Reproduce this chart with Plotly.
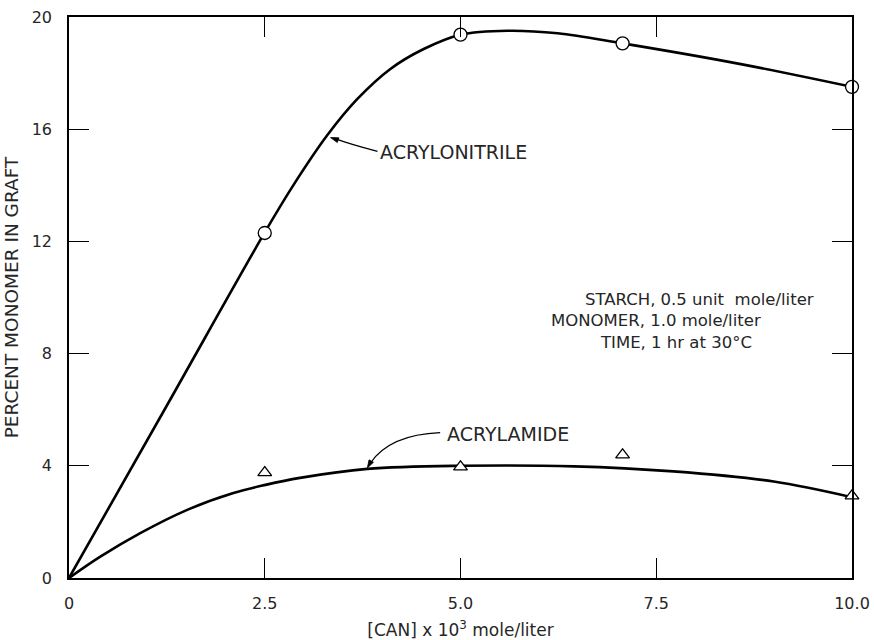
import plotly.graph_objects as go

# Measured graft content, percent monomer in graft
can_conc = [2.5, 5.0, 7.07, 10.0]
acrylonitrile_pts = [12.3, 19.37, 19.06, 17.51]
acrylamide_pts = [3.76, 3.96, 4.39, 2.93]

# Hand-drawn smooth fit curves
an_curve_x = [0, 1.25, 2.5, 2.86, 3.30, 3.68, 4.10, 4.53, 5.0, 5.6, 6.24, 7.07, 8.58, 10.0]
an_curve_y = [0, 6.15, 12.32, 13.98, 15.79, 17.07, 18.14, 18.86, 19.37, 19.51, 19.42, 19.06, 18.32, 17.51]
am_curve_x = [0, 0.40, 0.91, 1.51, 2.10, 2.51, 2.95, 3.81, 5.0, 6.45, 7.72, 9.0, 10.0]
am_curve_y = [0, 0.76, 1.60, 2.43, 3.03, 3.32, 3.57, 3.89, 4.0, 3.98, 3.80, 3.44, 2.88]

x_ticks = [0, 2.5, 5.0, 7.5, 10.0]
x_tick_text = ["0", "2.5", "5.0", "7.5", "10.0"]
y_ticks = [0, 4, 8, 12, 16, 20]
y_tick_text = ["0", "4", "8", "12", "16", "20"]

FONT = "DejaVu Sans"
INK = "#262626"

fig = go.Figure()

fig.add_trace(go.Scatter(x=an_curve_x, y=an_curve_y, mode="lines",
                         line=dict(color="black", width=2.6, shape="spline", smoothing=1.0),
                         showlegend=False, hoverinfo="skip"))
fig.add_trace(go.Scatter(x=am_curve_x, y=am_curve_y, mode="lines",
                         line=dict(color="black", width=2.6, shape="spline", smoothing=1.0),
                         showlegend=False, hoverinfo="skip"))
fig.add_trace(go.Scatter(x=can_conc, y=acrylonitrile_pts, mode="markers", name="Acrylonitrile",
                         marker=dict(symbol="circle", size=13, color="white",
                                     line=dict(color="black", width=1.3)),
                         showlegend=False, cliponaxis=False))
fig.add_trace(go.Scatter(x=can_conc, y=acrylamide_pts, mode="markers", name="Acrylamide",
                         marker=dict(symbol="triangle-up", size=12, color="white",
                                     line=dict(color="black", width=1.3)),
                         showlegend=False, cliponaxis=False))

# Curved leader lines from the labels to the curves, each ending in a small arrowhead
leader = dict(color="black", width=1.2)
fig.add_shape(type="path", xref="x", yref="y",
              path="M 3.94,15.21 Q 3.59,15.46 3.38,15.68", line=leader)
fig.add_shape(type="path", xref="x", yref="y",
              path="M 3.34,15.70 L 3.447,15.694 L 3.427,15.525 Z",
              line=dict(color="black", width=0.8), fillcolor="black")
fig.add_shape(type="path", xref="x", yref="y",
              path="M 4.74,5.18 Q 4.10,5.11 3.85,4.10", line=leader)
fig.add_shape(type="path", xref="x", yref="y",
              path="M 3.81,3.92 L 3.888,4.126 L 3.832,4.213 Z",
              line=dict(color="black", width=0.8), fillcolor="black")

label_font = dict(family=FONT, size=19, color=INK)
cond_font = dict(family=FONT, size=16.5, color=INK)

annotations = [
    dict(x=3.95, y=15.18, xref="x", yref="y", text="ACRYLONITRILE", showarrow=False,
         xanchor="left", yanchor="middle", font=label_font),
    dict(x=4.80, y=5.12, xref="x", yref="y", text="ACRYLAMIDE", showarrow=False,
         xanchor="left", yanchor="middle", font=label_font),
    # experimental conditions
    dict(x=(582 - 69) / 78.2, y=9.93, xref="x", yref="y", text="STARCH, 0.5 unit  mole/liter",
         showarrow=False, xanchor="left", yanchor="middle", font=cond_font),
    dict(x=(548 - 69) / 78.2, y=9.18, xref="x", yref="y", text="MONOMER, 1.0 mole/liter",
         showarrow=False, xanchor="left", yanchor="middle", font=cond_font),
    dict(x=(597 - 69) / 78.2, y=8.39, xref="x", yref="y", text="TIME, 1 hr at 30°C",
         showarrow=False, xanchor="left", yanchor="middle", font=cond_font),
]

axis_common = dict(
    showline=True, linecolor="black", linewidth=1.6, mirror="ticks",
    ticks="inside", ticklen=20, tickwidth=1.1, tickcolor="black",
    showgrid=False, zeroline=False, automargin=False,
    tickfont=dict(family=FONT, size=16, color=INK),
)

fig.update_layout(
    width=874, height=640,
    margin=dict(l=69, r=22, t=17, b=62),
    paper_bgcolor="white", plot_bgcolor="white",
    annotations=annotations,
    xaxis=dict(range=[0, 10], tickvals=x_ticks, ticktext=x_tick_text,
               ticklabelstandoff=10,
               title=dict(text="[CAN] x 10<sup>3</sup> mole/liter", standoff=12,
                          font=dict(family=FONT, size=17, color=INK)),
               **axis_common),
    yaxis=dict(range=[0, 20], tickvals=y_ticks, ticktext=y_tick_text,
               ticklabelstandoff=12,
               title=dict(text="PERCENT MONOMER IN GRAFT", standoff=8,
                          font=dict(family=FONT, size=18.5, color=INK)),
               **axis_common),
)

fig.write_html("out.html")
